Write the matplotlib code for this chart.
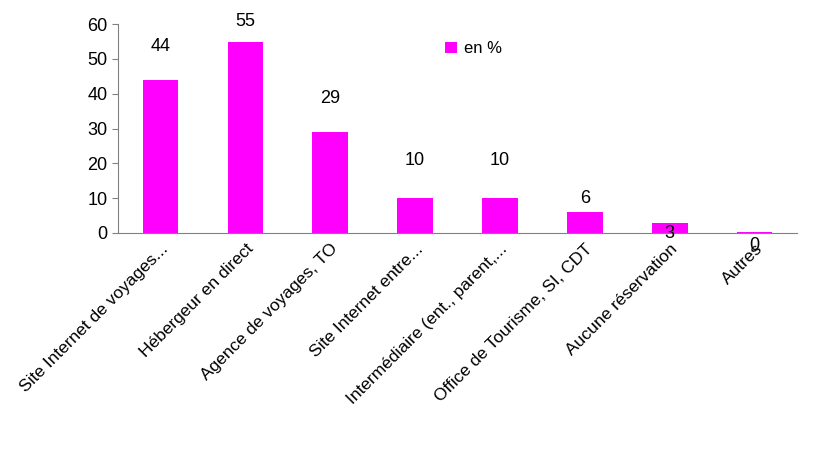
import matplotlib
matplotlib.use("Agg")
import matplotlib.pyplot as plt

categories = ["Site Internet de voyages...", "Hébergeur en direct", "Agence de voyages, TO",
              "Site Internet entre...", "Intermédiaire (ent., parent,...", "Office de Tourisme, SI, CDT",
              "Aucune réservation", "Autres"]
values = [44, 55, 29, 10, 10, 6, 3, 0.4]
value_labels = ["44", "55", "29", "10", "10", "6", "3", "0"]
# label offsets in points above bar top (mimic Excel placement)
label_offsets = [18, 8, 18, 21, 21, 4, -14, -16]

plt.rcParams["font.family"] = ["Liberation Sans", "DejaVu Sans"]
fig = plt.figure(figsize=(8.22, 4.55), dpi=100)
ax = fig.add_axes([0.1436, 0.488, 0.826, 0.459])

x = range(len(categories))
ax.bar(x, values, width=0.42, color="#FF00FF", label="en %")
for xi, v, t, off in zip(x, values, value_labels, label_offsets):
    ax.annotate(t, (xi, v), xytext=(0, off), textcoords="offset points",
                ha="center", va="bottom", fontsize=13)

ax.set_ylim(0, 60)
ax.set_xlim(-0.5, len(categories) - 0.5)
ax.set_yticks(range(0, 61, 10))
ax.tick_params(axis="y", labelsize=13, direction="out", length=4, color="#808080")
ax.set_xticks(list(x))
ax.set_xticklabels(categories, rotation=45, ha="right", rotation_mode="anchor", fontsize=12.5)
ax.tick_params(axis="x", length=0, pad=6)
for s in ["top", "right"]:
    ax.spines[s].set_visible(False)
ax.spines["left"].set_color("#808080")
ax.spines["bottom"].set_color("#808080")

ax.legend(loc="upper left", bbox_to_anchor=(0.46, 0.99), frameon=False, fontsize=12,
          handlelength=0.7, handleheight=0.7, handletextpad=0.4)

fig.savefig("out.png", dpi=100)
